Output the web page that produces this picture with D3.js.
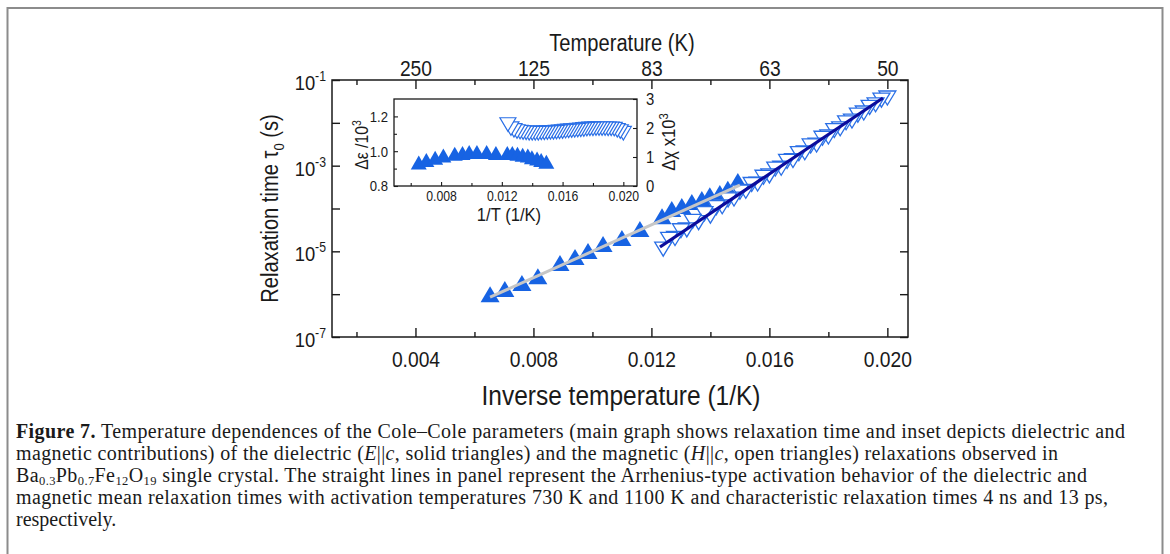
<!doctype html>
<html lang="en">
<head>
<meta charset="UTF-8">
<title>Figure 7 - relaxation times</title>
<script src="https://d3js.org/d3.v7.min.js"></script>
<style>
  body { margin: 0; background: #fff; }
  svg text { font-family: "Liberation Sans", Arial, sans-serif; fill: #1a1a1a; }
  svg .caption text { font-family: "Liberation Serif", "Times New Roman", serif; }
  /* the figure text is a little narrow, squeeze it horizontally */
  .sq  { transform-box: fill-box; transform-origin: center; transform: scaleX(0.875); }
  .sqr { transform-box: fill-box; transform-origin: right center; transform: scaleX(0.875); }
  .sql { transform-box: fill-box; transform-origin: left center; transform: scaleX(0.875); }
</style>
</head>
<body>
<div id="chart"></div>
<script>

// ---- data ----

// dielectric relaxation (E||c, solid triangles)
const dielX      = [0.00653, 0.00703, 0.00761, 0.00815, 0.00890, 0.00941, 0.00985, 0.01036, 0.01100, 0.01161,
                    0.01236, 0.01269, 0.01303, 0.01337, 0.01371, 0.01398, 0.01432, 0.01459, 0.01493];
const dielLogTau = [-6.00, -5.88, -5.74, -5.58, -5.27, -5.13, -4.99, -4.83, -4.69, -4.48,
                    -4.18, -4.01, -3.94, -3.85, -3.78, -3.69, -3.64, -3.54, -3.36];
const dielEps    = [0.935, 0.950, 0.962, 0.975, 0.985, 0.990, 0.995, 0.995, 0.995, 0.990,
                    0.990, 0.990, 0.985, 0.980, 0.975, 0.965, 0.958, 0.950, 0.940];

// magnetic relaxation (H||c, open triangles)
const magX      = [0.0124, 0.0126, 0.0128, 0.0130, 0.0132, 0.0134, 0.0136, 0.0138, 0.0140, 0.0142,
                   0.0144, 0.0146, 0.0148, 0.0150, 0.0152, 0.0154, 0.0156, 0.0158, 0.0160, 0.0162,
                   0.0164, 0.0166, 0.0168, 0.0170, 0.0172, 0.0174, 0.0176, 0.0178, 0.0180, 0.0182,
                   0.0184, 0.0186, 0.0188, 0.0190, 0.0192, 0.0194, 0.0196, 0.0198, 0.0200];
const magLogTau = [-4.95, -4.72, -4.70, -4.52, -4.50, -4.30, -4.33, -4.12, -4.18, -3.98,
                   -3.96, -3.80, -3.78, -3.62, -3.60, -3.44, -3.43, -3.27, -3.24, -3.08,
                   -3.06, -2.90, -2.88, -2.72, -2.70, -2.54, -2.52, -2.36, -2.33, -2.18,
                   -2.14, -2.00, -1.96, -1.82, -1.77, -1.64, -1.58, -1.47, -1.42];
const magChi    = [2.12, 1.98, 1.92, 1.88, 1.86, 1.84, 1.83, 1.82, 1.82, 1.82,
                   1.82, 1.83, 1.83, 1.84, 1.85, 1.85, 1.86, 1.87, 1.88, 1.89,
                   1.90, 1.91, 1.92, 1.93, 1.94, 1.95, 1.96, 1.97, 1.97, 1.98,
                   1.98, 1.98, 1.98, 1.97, 1.97, 1.96, 1.92, 1.88, 1.82];

// Arrhenius fit lines (end points)
const dielFitX   = [0.00653, 0.01500];
const dielFitTau = [8.5e-7, 3.5e-4];
const magFitX    = [0.01229, 0.01985];
const magFitTau  = [1.26e-5, 3.8e-2];

// ticks
const xTicks        = [0.004, 0.008, 0.012, 0.016, 0.020];
const xTickLabels   = ['0.004', '0.008', '0.012', '0.016', '0.020'];
const xMinorTicks   = [0.002, 0.006, 0.010, 0.014, 0.018];
const topTickLabels = ['250', '125', '83', '63', '50'];
const yTicks        = [1e-1, 1e-2, 1e-3, 1e-4, 1e-5, 1e-6, 1e-7];
const yLabelTicks   = [1e-1, 1e-3, 1e-5, 1e-7];
const yTickExps     = ['-1', '-3', '-5', '-7'];

const insetXTicks       = [0.008, 0.012, 0.016, 0.020];
const insetXTickLabels  = ['0.008', '0.012', '0.016', '0.020'];
const insetXMinor       = [0.006, 0.010, 0.014, 0.018];
const insetEpsTicks     = [0.8, 1.0, 1.2];
const insetEpsLabels    = ['0.8', '1.0', '1.2'];
const insetEpsMinor     = [0.9, 1.1];
const insetChiTicks     = [0, 1, 2, 3];
const insetChiLabels    = ['0', '1', '2', '3'];

// caption lines: [text, style]
const captionLines = [
  [['Figure 7.', 'b'], [' Temperature dependences of the Cole\u2013Cole parameters (main graph shows relaxation time and inset depicts dielectric and']],
  [['magnetic contributions) of the dielectric ('], ['E', 'i'], ['||'], ['c', 'i'], [', solid triangles) and the magnetic ('], ['H', 'i'], ['||'], ['c', 'i'], [', open triangles) relaxations observed in']],
  [['Ba'], ['0.3', 'sub'], ['Pb'], ['0.7', 'sub'], ['Fe'], ['12', 'sub'], ['O'], ['19', 'sub'], [' single crystal. The straight lines in panel represent the Arrhenius-type activation behavior of the dielectric and']],
  [['magnetic mean relaxation times with activation temperatures 730 K and 1100 K and characteristic relaxation times 4 ns and 13 ps,']],
  [['respectively.']]
];
const captionWidths = [1109, 1042, 1071, 1092, null];

// ---- drawing ----

const blue = '#1763e3';
const openBlue = '#2a6fe6';
const navy = '#0b0c9c';
const grey = '#c6c6c6';
const ink = '#1a1a1a';

const svg = d3.select('#chart')
    .append('svg')
    .attr('width', 1170)
    .attr('height', 554);

// figure frame (bottom edge is off the picture)
svg.append('path')
    .attr('d', 'M7.5,570V8H1162.5V570')
    .attr('fill', 'none')
    .attr('stroke', '#8c8c8c')
    .attr('stroke-width', 2);

// main plot scales
const x = d3.scaleLinear()
    .domain([0.00117, 0.0207])
    .range([332, 908]);

const y = d3.scaleLog()
    .domain([1e-7, 1e-1])
    .range([337, 80]);

const [xl, xr] = x.range();
const [yb, yt] = y.range();

function cleanAxis(g, size) {
  g.attr('font-family', null).attr('font-size', null);
  g.select('.domain').remove();
  g.selectAll('line').attr('stroke', ink).attr('stroke-width', 1.4);
  g.selectAll('text').attr('font-size', size).attr('fill', ink);
}

// bottom axis
svg.append('g')
    .attr('transform', `translate(0,${yb})`)
    .call(d3.axisBottom(x).tickValues(xTicks).tickSize(-9).tickPadding(14)
        .tickFormat((d, i) => xTickLabels[i]))
    .call(g => cleanAxis(g, 22))
    .call(g => g.selectAll('text').attr('class', 'sq'));
svg.append('g')
    .attr('transform', `translate(0,${yb})`)
    .call(d3.axisBottom(x).tickValues(xMinorTicks).tickSize(-5).tickFormat(''))
    .call(g => cleanAxis(g, 10));

// top axis (temperature)
svg.append('g')
    .attr('transform', `translate(0,${yt})`)
    .call(d3.axisTop(x).tickValues(xTicks).tickSize(-9).tickPadding(4)
        .tickFormat((d, i) => topTickLabels[i]))
    .call(g => cleanAxis(g, 22))
    .call(g => g.selectAll('text').attr('class', 'sq'));
svg.append('g')
    .attr('transform', `translate(0,${yt})`)
    .call(d3.axisTop(x).tickValues(xMinorTicks).tickSize(-5).tickFormat(''))
    .call(g => cleanAxis(g, 10));

// left and right axes
svg.append('g')
    .attr('transform', `translate(${xl},0)`)
    .call(d3.axisLeft(y).tickValues(yTicks).tickSize(-8).tickFormat(''))
    .call(g => cleanAxis(g, 10));
svg.append('g')
    .attr('transform', `translate(${xr},0)`)
    .call(d3.axisRight(y).tickValues(yTicks).tickSize(-8).tickFormat(''))
    .call(g => cleanAxis(g, 10));

// y tick labels 10^n
yLabelTicks.forEach((v, i) => {
  const t = svg.append('text')
      .attr('class', 'sqr')
      .attr('x', xl - 6)
      .attr('y', y(v) + 10)
      .attr('text-anchor', 'end')
      .attr('font-size', 21);
  t.append('tspan').text('10');
  t.append('tspan').attr('dy', -9).attr('font-size', 14).text(yTickExps[i]);
});

// plot frame
svg.append('rect')
    .attr('x', xl).attr('y', yt)
    .attr('width', xr - xl).attr('height', yb - yt)
    .attr('fill', 'none')
    .attr('stroke', ink)
    .attr('stroke-width', 1.5);

// axis titles
svg.append('text')
    .attr('class', 'sq')
    .attr('x', (xl + xr) / 2 + 2).attr('y', 51)
    .attr('text-anchor', 'middle')
    .attr('font-size', 23)
    .text('Temperature (K)');

svg.append('text')
    .attr('class', 'sq')
    .attr('x', (xl + xr) / 2 + 1).attr('y', 405)
    .attr('text-anchor', 'middle')
    .attr('font-size', 28)
    .text('Inverse temperature (1/K)');

const ytitle = svg.append('g')
    .attr('transform', `translate(278,${(yt + yb) / 2})rotate(-90)`)
    .append('text')
    .attr('class', 'sq')
    .attr('text-anchor', 'middle')
    .attr('font-size', 23);
ytitle.append('tspan').text('Relaxation time \u03c4');
ytitle.append('tspan').attr('dy', 6).attr('font-size', 15).text('0');
ytitle.append('tspan').attr('dy', -6).text(' (s)');

// marker shapes
const triUp = (w, h) => `M0,${-h / 2}L${w / 2},${h / 2}L${-w / 2},${h / 2}Z`;
const triDown = (w, h) => `M${-w / 2},${-h / 2}L${w / 2},${-h / 2}L0,${h / 2}Z`;

const line = d3.line()
    .x(d => x(d[0]))
    .y(d => y(d[1]));

// dielectric points
svg.append('g')
    .selectAll('path')
    .data(d3.zip(dielX, dielLogTau))
    .join('path')
    .attr('d', triUp(19, 16))
    .attr('transform', d => `translate(${x(d[0])},${y(Math.pow(10, d[1]))})`)
    .attr('fill', blue);

// magnetic points (drawn from high 1/T down, white filled)
svg.append('g')
    .selectAll('path')
    .data(d3.zip(magX, magLogTau).reverse())
    .join('path')
    .attr('d', triDown(17, 14))
    .attr('transform', d => `translate(${x(d[0])},${y(Math.pow(10, d[1]))})`)
    .attr('fill', '#fff')
    .attr('stroke', openBlue)
    .attr('stroke-width', 1.3);

// fit lines
svg.append('path')
    .datum(d3.zip(dielFitX, dielFitTau))
    .attr('fill', 'none')
    .attr('stroke', grey)
    .attr('stroke-width', 3)
    .attr('d', line);

svg.append('path')
    .datum(d3.zip(magFitX, magFitTau))
    .attr('fill', 'none')
    .attr('stroke', navy)
    .attr('stroke-width', 3.2)
    .attr('d', line);

// ---- inset ----
const xi = d3.scaleLinear().domain([0.0049, 0.0209]).range([394, 637]);
const yiL = d3.scaleLinear().domain([0.8, 1.3]).range([186, 99]);
const yiR = d3.scaleLinear().domain([0, 3]).range([186, 99]);
const [ixl, ixr] = xi.range();
const [iyb, iyt] = yiL.range();

svg.append('g')
    .attr('transform', `translate(0,${iyb})`)
    .call(d3.axisBottom(xi).tickValues(insetXTicks).tickSize(-4).tickPadding(5)
        .tickFormat((d, i) => insetXTickLabels[i]))
    .call(g => cleanAxis(g, 14))
    .call(g => g.selectAll('line').attr('stroke-width', 1.1))
    .call(g => g.selectAll('text').attr('class', 'sq'));
svg.append('g')
    .attr('transform', `translate(0,${iyb})`)
    .call(d3.axisBottom(xi).tickValues(insetXMinor).tickSize(-3).tickFormat(''))
    .call(g => cleanAxis(g, 10))
    .call(g => g.selectAll('line').attr('stroke-width', 1.1));

svg.append('g')
    .attr('transform', `translate(${ixl},0)`)
    .call(d3.axisLeft(yiL).tickValues(insetEpsTicks).tickSize(-4).tickPadding(6)
        .tickFormat((d, i) => insetEpsLabels[i]))
    .call(g => cleanAxis(g, 15))
    .call(g => g.selectAll('line').attr('stroke-width', 1.1))
    .call(g => g.selectAll('text').attr('class', 'sqr'));
svg.append('g')
    .attr('transform', `translate(${ixl},0)`)
    .call(d3.axisLeft(yiL).tickValues(insetEpsMinor).tickSize(-3).tickFormat(''))
    .call(g => cleanAxis(g, 10))
    .call(g => g.selectAll('line').attr('stroke-width', 1.1));

svg.append('g')
    .attr('transform', `translate(${ixr},0)`)
    .call(d3.axisRight(yiR).tickValues(insetChiTicks).tickSize(-4).tickPadding(9)
        .tickFormat((d, i) => insetChiLabels[i]))
    .call(g => cleanAxis(g, 17))
    .call(g => g.selectAll('line').attr('stroke-width', 1.1))
    .call(g => g.selectAll('text').attr('class', 'sql'));

svg.append('rect')
    .attr('x', ixl).attr('y', iyt)
    .attr('width', ixr - ixl).attr('height', iyb - iyt)
    .attr('fill', 'none')
    .attr('stroke', ink)
    .attr('stroke-width', 1.3);

// inset points
svg.append('g')
    .selectAll('path')
    .data(d3.zip(dielX, dielEps))
    .join('path')
    .attr('d', triUp(16, 14))
    .attr('transform', d => `translate(${xi(d[0])},${yiL(d[1])})`)
    .attr('fill', blue);

svg.append('g')
    .selectAll('path')
    .data(d3.zip(magX, magChi).reverse())
    .join('path')
    .attr('d', triDown(16, 13.5))
    .attr('transform', d => `translate(${xi(d[0])},${yiR(d[1])})`)
    .attr('fill', '#fff')
    .attr('stroke', openBlue)
    .attr('stroke-width', 1.2);

// inset axis titles
const epsTitle = svg.append('g')
    .attr('transform', `translate(368,145)rotate(-90)`)
    .append('text')
    .attr('class', 'sq')
    .attr('text-anchor', 'middle')
    .attr('font-size', 18);
epsTitle.append('tspan').text('\u0394\u03b5 /10');
epsTitle.append('tspan').attr('dy', -7).attr('font-size', 12).text('3');

const chiTitle = svg.append('g')
    .attr('transform', `translate(675,142)rotate(-90)`)
    .append('text')
    .attr('class', 'sq')
    .attr('text-anchor', 'middle')
    .attr('font-size', 19);
chiTitle.append('tspan').text('\u0394\u03c7 x10');
chiTitle.append('tspan').attr('dy', -7).attr('font-size', 13).text('3');

svg.append('text')
    .attr('class', 'sq')
    .attr('x', 509).attr('y', 221)
    .attr('text-anchor', 'middle')
    .attr('font-size', 19)
    .text('1/T (1/K)');

// ---- caption ----
const cap = svg.append('g').attr('class', 'caption');
captionLines.forEach((segs, li) => {
  const t = cap.append('text')
      .attr('x', 16)
      .attr('y', 438 + li * 22)
      .attr('font-size', 20);
  if (captionWidths[li]) t.attr('textLength', captionWidths[li]).attr('lengthAdjust', 'spacing');
  let shift = 0;
  segs.forEach(([txt, style]) => {
    const want = style === 'sub' ? 2.5 : 0;
    const sp = t.append('tspan').text(txt);
    if (want !== shift) { sp.attr('dy', want - shift); shift = want; }
    if (style === 'b') sp.attr('font-weight', 'bold');
    if (style === 'i') sp.attr('font-style', 'italic');
    if (style === 'sub') sp.attr('font-size', 12.5);
  });
});

</script>
</body>
</html>
